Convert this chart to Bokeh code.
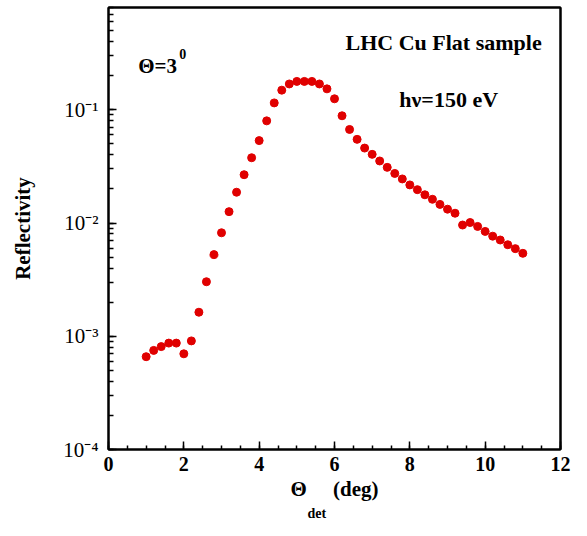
from bokeh.plotting import figure
from bokeh.models import Range1d, Label, FixedTicker, LogTicker, LinearAxis, Title
from bokeh.embed import file_html
from bokeh.resources import INLINE

# ---- data ----
theta_det = [1.0, 1.2, 1.4, 1.6, 1.8, 2.0, 2.2, 2.4, 2.6, 2.8,
             3.0, 3.2, 3.4, 3.6, 3.8, 4.0, 4.2, 4.4, 4.6, 4.8,
             5.0, 5.2, 5.4, 5.6, 5.8, 6.0, 6.2, 6.4, 6.6, 6.8,
             7.0, 7.2, 7.4, 7.6, 7.8, 8.0, 8.2, 8.4, 8.6, 8.8,
             9.0, 9.2, 9.4, 9.6, 9.8, 10.0, 10.2, 10.4, 10.6, 10.8, 11.0]
reflectivity = [6.6e-4, 7.5e-4, 8.1e-4, 8.7e-4, 8.7e-4, 7.0e-4, 9.1e-4, 1.63e-3, 3.03e-3, 5.26e-3,
                8.2e-3, 1.26e-2, 1.87e-2, 2.67e-2, 3.77e-2, 5.34e-2, 7.98e-2, 0.115, 0.149, 0.169,
                0.178, 0.178, 0.178, 0.169, 0.153, 0.125, 0.0885, 0.067, 0.0548, 0.0459,
                0.0404, 0.0353, 0.031, 0.0274, 0.0245, 0.0217, 0.0197, 0.01775, 0.0162, 0.0146,
                0.01325, 0.0122, 0.0096, 0.0101, 0.00933, 0.00843, 0.00765, 0.00708, 0.00643, 0.00594, 0.0054]
x_ticks = [0, 2, 4, 6, 8, 10, 12]
y_ticks = [1e-4, 1e-3, 1e-2, 1e-1]
y_tick_labels = ["10\u207b\u2074", "10\u207b\u00b3", "10\u207b\u00b2", "10\u207b\u00b9"]

SERIF = "Liberation Serif"

p = figure(width=571, height=520, y_axis_type="log",
           x_range=Range1d(0, 12), y_range=Range1d(1e-4, 0.8),
           output_backend="svg", toolbar_location=None,
           min_border_left=108, min_border_right=11,
           min_border_top=7, min_border_bottom=8)
p.grid.visible = False
p.outline_line_color = "black"
p.outline_line_width = 2
p.background_fill_color = "white"
p.border_fill_color = "white"

p.scatter(theta_det, reflectivity, size=8, color="#e00000", line_color="#e00000")

# x axis
xa = p.xaxis[0]
xa.ticker = FixedTicker(ticks=x_ticks, minor_ticks=[i * 0.5 for i in range(25)])
xa.axis_line_width = 2
xa.major_tick_in = 8
xa.major_tick_out = 0
xa.minor_tick_in = 4
xa.minor_tick_out = 0
xa.major_tick_line_width = 1.5
xa.minor_tick_line_width = 1.5
xa.major_label_text_font = SERIF
xa.major_label_text_font_style = "bold"
xa.major_label_text_font_size = "20px"
xa.major_label_text_color = "black"
xa.major_label_standoff = 7
xa.axis_label = "\u0398\u00a0\u00a0\u00a0\u00a0\u00a0(deg)"
xa.axis_label_text_font = SERIF
xa.axis_label_text_font_style = "bold"
xa.axis_label_text_font_size = "21px"
xa.axis_label_text_color = "black"
xa.axis_label_standoff = 3

# subscript of the x axis title
p.add_layout(Title(text="det", align="left", offset=199, standoff=0,
                   text_line_height=0.7,
                   text_font=SERIF, text_font_style="bold",
                   text_font_size="14px", text_color="black"), "below")

# y axis
ya = p.yaxis[0]
ya.ticker = LogTicker(desired_num_ticks=4, num_minor_ticks=10)
ya.axis_line_width = 2
ya.major_tick_in = 8
ya.major_tick_out = 0
ya.minor_tick_in = 5
ya.minor_tick_out = 0
ya.major_tick_line_width = 1.5
ya.minor_tick_line_width = 1.5
ya.major_label_overrides = {t: s for t, s in zip(y_ticks, y_tick_labels)}
ya.major_label_text_font = SERIF
ya.major_label_text_font_size = "21px"
ya.major_label_text_color = "black"
ya.major_label_standoff = 10
ya.axis_label = "Reflectivity"
ya.axis_label_text_font = SERIF
ya.axis_label_text_font_style = "bold"
ya.axis_label_text_font_size = "21px"
ya.axis_label_text_color = "black"
ya.axis_label_standoff = 25

# frame lines on top and right (no ticks)
for side in ("above", "right"):
    ax = LinearAxis(ticker=FixedTicker(ticks=[]), axis_line_width=2,
                    axis_line_color="black", major_tick_line_color=None,
                    minor_tick_line_color=None)
    p.add_layout(ax, side)

def lab(text, x, y, size, align="left"):
    p.add_layout(Label(x=x, y=y, text=text,
                       text_font=SERIF, text_font_size=size,
                       text_font_style="bold",
                       text_color="black", text_align=align,
                       text_baseline="alphabetic"))

# annotations
lab("\u0398=3", 0.79, 0.243, "21px")
lab("0", 1.88, 0.312, "14px")
lab("LHC Cu Flat sample", 11.5, 0.393, "22px", align="right")
lab("h\u03bd=150 eV", 7.72, 0.1224, "22px")

open("out.html", "w").write(file_html(p, INLINE))
